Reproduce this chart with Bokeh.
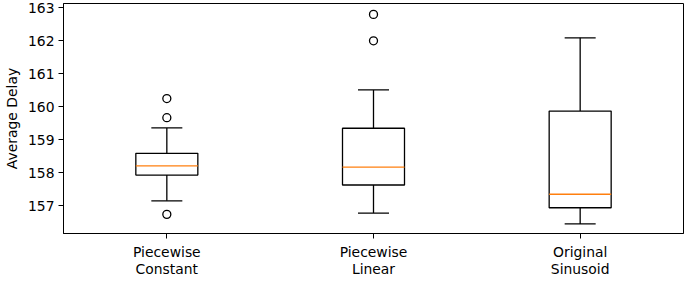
from bokeh.plotting import figure
from bokeh.models import FixedTicker, ColumnDataSource
from bokeh.embed import file_html
from bokeh.resources import INLINE

categories = ["Piecewise\nConstant", "Piecewise\nLinear", "Original\nSinusoid"]
whisker_low = [157.15, 156.78, 156.45]
q1 = [157.93, 157.63, 156.94]
median = [158.21, 158.17, 157.35]
q3 = [158.59, 159.35, 159.87]
whisker_high = [159.36, 160.51, 162.09]
outliers = [[160.25, 159.67, 156.74], [162.80, 162.00], []]
y_ticks = [157, 158, 159, 160, 161, 162, 163]

positions = list(range(1, len(categories) + 1))
box_w = 0.3
cap_w = 0.15

src = ColumnDataSource(dict(
    x=positions, lo=whisker_low, q1=q1, med=median, q3=q3, hi=whisker_high,
    left=[x - box_w / 2 for x in positions], right=[x + box_w / 2 for x in positions],
    cl=[x - cap_w / 2 for x in positions], cr=[x + cap_w / 2 for x in positions],
))
ox, oy = [], []
for x, vals in zip(positions, outliers):
    for v in vals:
        ox.append(x)
        oy.append(v)

p = figure(frame_width=620, frame_height=230, x_range=(0.5, 3.5), y_range=(156.16, 163.13),
           output_backend="svg", toolbar_location=None,
           min_border_left=58, min_border_right=1, min_border_top=3, min_border_bottom=38)
p.background_fill_color = "white"
p.border_fill_color = "white"
p.outline_line_color = "black"
p.outline_line_width = 1
p.grid.visible = False

lw = 1.3
p.segment(x0="x", y0="q3", x1="x", y1="hi", source=src, line_color="black", line_width=lw)
p.segment(x0="x", y0="q1", x1="x", y1="lo", source=src, line_color="black", line_width=lw)
p.segment(x0="cl", y0="hi", x1="cr", y1="hi", source=src, line_color="black", line_width=lw)
p.segment(x0="cl", y0="lo", x1="cr", y1="lo", source=src, line_color="black", line_width=lw)
p.quad(left="left", right="right", bottom="q1", top="q3", source=src,
       fill_color=None, line_color="black", line_width=lw)
p.segment(x0="left", y0="med", x1="right", y1="med", source=src, line_color="#ff7f0e", line_width=lw)
p.scatter(ox, oy, marker="circle", size=8, fill_color=None, line_color="black", line_width=lw)

p.xaxis.ticker = FixedTicker(ticks=positions)
p.xaxis.major_label_overrides = {x: c for x, c in zip(positions, categories)}
p.yaxis.ticker = FixedTicker(ticks=y_ticks)
p.yaxis.axis_label = "Average Delay"

for ax in (p.xaxis, p.yaxis):
    ax.minor_tick_line_color = None
    ax.major_tick_in = 0
    ax.major_tick_out = 5
    ax.major_tick_line_color = "black"
    ax.axis_line_color = "black"
    ax.major_label_text_font = "DejaVu Sans"
    ax.major_label_text_font_size = "13.9px"
    ax.major_label_text_color = "black"
    ax.axis_label_text_font = "DejaVu Sans"
    ax.axis_label_text_font_size = "13.9px"
    ax.axis_label_text_font_style = "normal"
    ax.axis_label_text_color = "black"
    ax.major_label_standoff = 4
p.xaxis.major_label_text_line_height = 1.1
p.xaxis.major_label_standoff = 5

open("out.html", "w").write(file_html(p, INLINE))
